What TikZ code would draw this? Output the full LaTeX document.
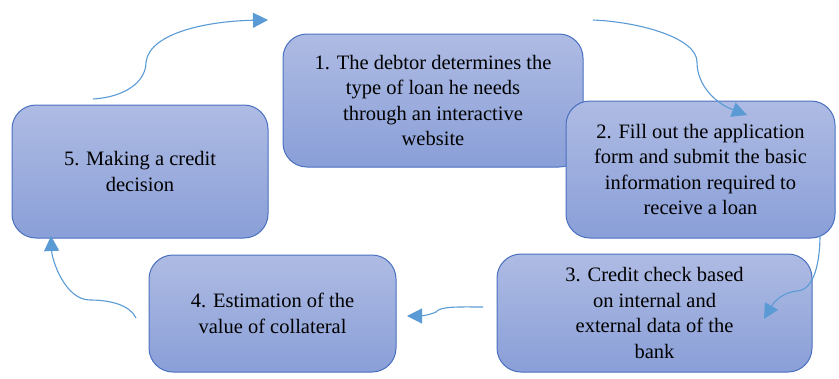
\documentclass[tikz,border=0pt]{standalone}
\usepackage{fontspec}
\setmainfont{LiberationSerif}[Extension=.ttf,UprightFont=*-Regular]
\usetikzlibrary{arrows.meta}
\definecolor{boxtop}{HTML}{AEBBE3}
\definecolor{boxbot}{HTML}{8A9FD8}
\definecolor{boxline}{HTML}{4A70C0}
\definecolor{arrowblue}{HTML}{5B9BD5}

\begin{document}
\begin{tikzpicture}[x=1pt,y=-1pt,
	stepbox/.style={draw=boxline,line width=1pt,rounded corners=24pt,top color=boxtop,bottom color=boxbot,align=center,font=\fontsize{20.5}{25.5}\selectfont,inner sep=0pt},
	flow/.style={draw=arrowblue,line width=1.1pt,-{Triangle[length=15pt,width=15pt]}}]
			\useasboundingbox (0,0) rectangle (839,378);
			\node[stepbox,minimum width=300pt,minimum height=133pt] (Debtor) at (433,100.5) {1. The debtor determines the\\type of loan he needs\\through an interactive\\website};
			\node[stepbox,minimum width=269pt,minimum height=137pt] (Form) at (700.5,169.5) {2. Fill out the application\\form and submit the basic\\information required to\\receive a loan};
			\node[stepbox,minimum width=315pt,minimum height=118pt] (Check) at (654.5,313) {3. Credit check based\\on internal and\\external data of the\\bank};
			\node[stepbox,minimum width=247pt,minimum height=117pt] (Value) at (272.5,313.5) {4. Estimation of the\\value of collateral};
			\node[stepbox,minimum width=256pt,minimum height=133pt] (Decide) at (140,171.5) {5. Making a credit\\decision};
			\coordinate (DecideOut) at (93,99);
			\coordinate (DebtorIn) at (268,20);
			\coordinate (DebtorOut) at (593,20);
			\coordinate (FormIn) at (747,115);
			\coordinate (FormOut) at (820,235);
			\coordinate (CheckIn) at (764,319);
			\coordinate (CheckOut) at (483,307);
			\coordinate (ValueIn) at (407,316);
			\coordinate (ValueOut) at (136,318);
			\coordinate (DecideIn) at (51,236);
			\draw[flow] (DecideOut) .. controls (125,97) and (146,82) .. (146,62) .. controls (150,32) and (210,21) .. (DebtorIn);
			\draw[flow] (DebtorOut) .. controls (640,22) and (697,38) .. (697,62) .. controls (697,85) and (715,103) .. (FormIn);
			\draw[flow] (FormOut) .. controls (820,260) and (815,290) .. (797,291) .. controls (785,292) and (775,300) .. (CheckIn);
			\draw[flow] (CheckOut) .. controls (460,307) and (440,306) .. (436,312) .. controls (430,315) and (420,316) .. (ValueIn);
			\draw[flow] (ValueOut) .. controls (130,305) and (110,300) .. (90,300) .. controls (65,300) and (52,260) .. (DecideIn);
		\end{tikzpicture}
\end{document}
